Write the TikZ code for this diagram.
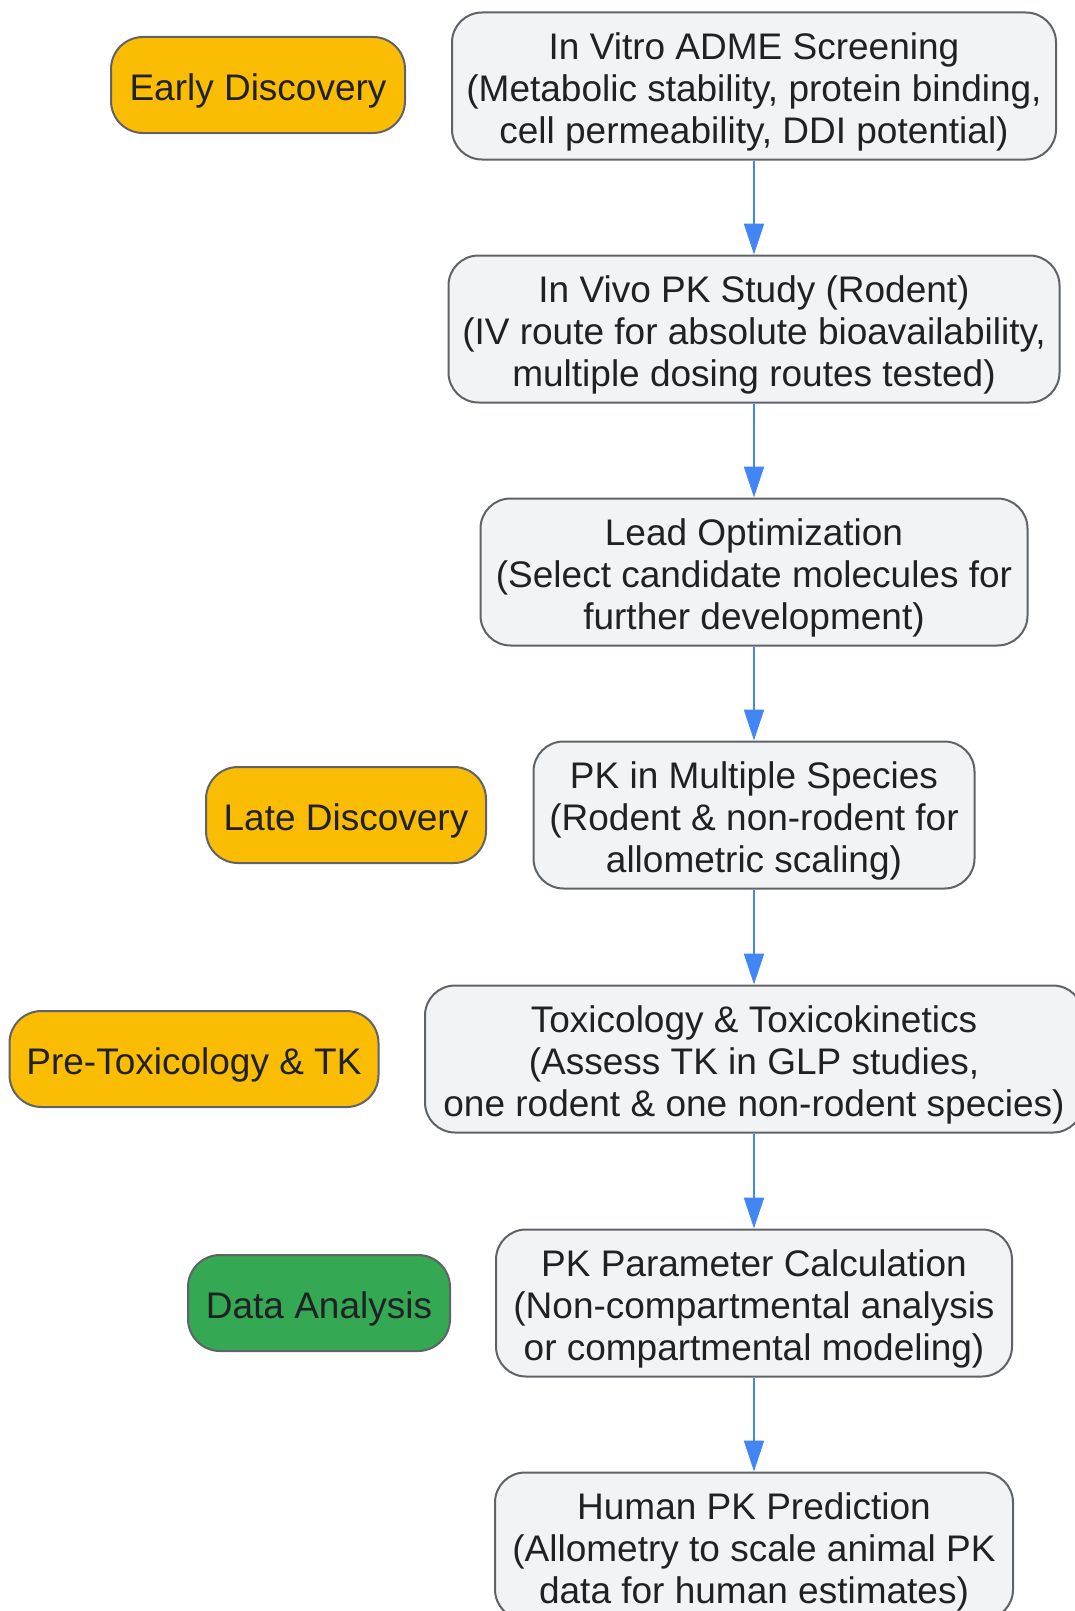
\documentclass[tikz,border=0pt]{standalone}
\usepackage{fontspec}
\setmainfont{Liberation Sans}
\usetikzlibrary{arrows.meta}
\definecolor{boxfill}{HTML}{F1F3F4}
\definecolor{boxline}{HTML}{5F6368}
\definecolor{boxtext}{HTML}{202124}
\definecolor{phaseyellow}{HTML}{FBBC04}
\definecolor{phasegreen}{HTML}{34A853}
\definecolor{flowblue}{HTML}{4285F4}
\tikzset{
	stage/.style={draw=boxline,fill=boxfill,line width=2pt,rounded corners=30pt,align=center,minimum height=147pt,inner sep=0pt,text height=124pt,text depth=10pt,text=boxtext,font=\fontsize{37}{42}\selectfont},
	phase/.style={draw=boxline,line width=2pt,rounded corners=32pt,minimum height=96pt,inner sep=0pt,text height=40pt,text depth=10pt,text=boxtext,font=\fontsize{37}{42}\selectfont},
	flow/.style={draw=flowblue,line width=2pt,-{Triangle[length=31pt,width=20pt]}}
}
\begin{document}
\begin{tikzpicture}[x=1pt,y=-1pt]
	\useasboundingbox (0,0) rectangle (1075,1611);
	\node[stage,minimum width=604pt] (vitro) at (754,86) {In Vitro ADME Screening\\(Metabolic stability, protein binding,\\cell permeability, DDI potential)};
	\node[stage,minimum width=611pt] (vivo) at (754,329) {In Vivo PK Study (Rodent)\\(IV route for absolute bioavailability,\\multiple dosing routes tested)};
	\node[stage,minimum width=547pt] (lead) at (754,572) {Lead Optimization\\(Select candidate molecules for\\further development)};
	\node[stage,minimum width=441pt] (species) at (754,815) {PK in Multiple Species\\(Rodent \& non-rodent for\\allometric scaling)};
	\node[stage,minimum width=658pt] (tox) at (754,1059) {Toxicology \& Toxicokinetics\\(Assess TK in GLP studies,\\one rodent \& one non-rodent species)};
	\node[stage,minimum width=516pt] (param) at (754,1303) {PK Parameter Calculation\\(Non-compartmental analysis\\or compartmental modeling)};
	\node[stage,minimum width=518pt] (human) at (754,1546) {Human PK Prediction\\(Allometry to scale animal PK\\data for human estimates)};
	\node[phase,fill=phaseyellow,minimum width=294pt] (early) at (258,85) {Early Discovery};
	\node[phase,fill=phaseyellow,minimum width=280pt] (late) at (346,815) {Late Discovery};
	\node[phase,fill=phaseyellow,minimum width=369pt] (pretox) at (194,1059) {Pre-Toxicology \& TK};
	\node[phase,fill=phasegreen,minimum width=262pt] (analysis) at (319,1303) {Data Analysis};
	\foreach \a/\b in {vitro/vivo,vivo/lead,lead/species,species/tox,tox/param,param/human}{
		\draw[flow] (\a) -- (\b);
	}
\end{tikzpicture}
\end{document}
